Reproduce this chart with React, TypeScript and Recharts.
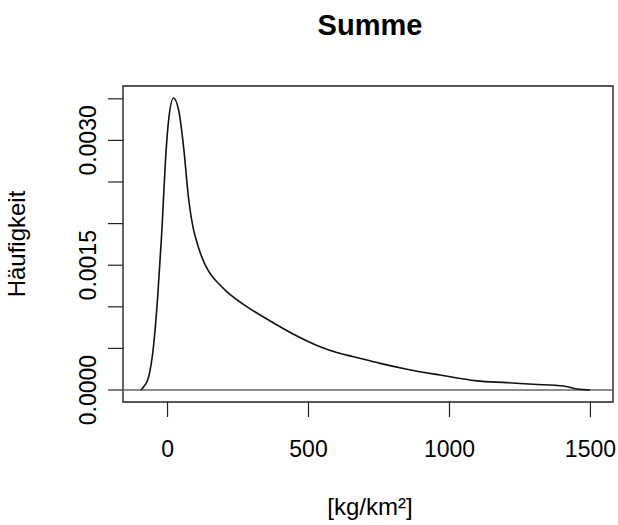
import { LineChart, Line, XAxis, YAxis, ReferenceLine, ReferenceArea, Customized } from 'recharts'

// density curve
const xValues = [-94, -85, -73, -67, -50, -35, -20, -8, 4, 21, 39, 57, 74, 92, 104, 116, 134, 151, 181, 211, 282, 364, 447, 541, 600, 660, 754, 849, 967, 1097, 1203, 1298, 1404, 1452, 1499]
const densities = [0, 0.00004, 0.0001, 0.00016, 0.00052, 0.00112, 0.00192, 0.00272, 0.00325, 0.00351, 0.00337, 0.00292, 0.00232, 0.00193, 0.00178, 0.00165, 0.0015, 0.0014, 0.00128, 0.00118, 0.001, 0.00083, 0.00067, 0.00052, 0.00045, 0.0004, 0.00032, 0.00025, 0.00018, 0.00011, 0.000089, 0.000069, 0.000048, 0.000012, 0]

const xTicks = [0, 500, 1000, 1500]
const yTicks = [0, 0.0005, 0.001, 0.0015, 0.002, 0.0025, 0.003, 0.0035]
const yLabelled = [0, 0.0015, 0.003]

const xDomain = [-158, 1580]
const yDomain = [-0.000144, 0.003654]

const FONT = '"Liberation Sans", Arial, sans-serif'

const data = xValues.map((x, i) => ({ x, d: densities[i] }))

function XTick(props: any) {
  const { x, payload } = props
  return (
    <text x={x} y={457} textAnchor="middle" fontSize={23} fontFamily={FONT} fill="#000">
      {payload.value}
    </text>
  )
}

function YTick(props: any) {
  const { y, payload } = props
  if (!yLabelled.some(v => Math.abs(v - payload.value) < 1e-9)) return null
  return (
    <text x={96} y={y} transform={`rotate(-90, 96, ${y})`} textAnchor="middle" fontSize={23} fontFamily={FONT} fill="#000">
      {payload.value.toFixed(4)}
    </text>
  )
}

const Labels = () => (
  <g fontFamily={FONT} fill="#000">
    <text x={370} y={35} textAnchor="middle" fontSize={29} fontWeight="bold">Summe</text>
    <text x={370} y={515} textAnchor="middle" fontSize={24}>[kg/km²]</text>
    <text x={25} y={244} transform="rotate(-90, 25, 244)" textAnchor="middle" fontSize={24}>Häufigkeit</text>
  </g>
)

export default function App() {
  return (
    <div style={{ position: 'absolute', left: 0, top: 0, background: '#fff' }}>
      <LineChart width={618} height={525} data={data} margin={{ top: 86, right: 5, bottom: 0, left: 0 }}>
        <XAxis
          dataKey="x"
          type="number"
          domain={xDomain}
          ticks={xTicks}
          height={123}
          axisLine={false}
          tickSize={15}
          tickLine={{ stroke: '#222', strokeWidth: 1.2 }}
          tick={<XTick />}
          allowDataOverflow
        />
        <YAxis
          type="number"
          domain={yDomain}
          ticks={yTicks}
          interval={0}
          width={123}
          axisLine={false}
          tickSize={15}
          tickLine={{ stroke: '#222', strokeWidth: 1.2 }}
          tick={<YTick />}
          allowDataOverflow
        />
        <ReferenceArea x1={xDomain[0]} x2={xDomain[1]} y1={yDomain[0]} y2={yDomain[1]} fill="none" stroke="#222" strokeWidth={1.4} />
        <ReferenceLine y={0} stroke="#666" strokeWidth={1.3} />
        <Line dataKey="d" type="monotone" stroke="#111" strokeWidth={1.6} dot={false} isAnimationActive={false} />
        <Customized component={Labels} />
      </LineChart>
    </div>
  )
}
